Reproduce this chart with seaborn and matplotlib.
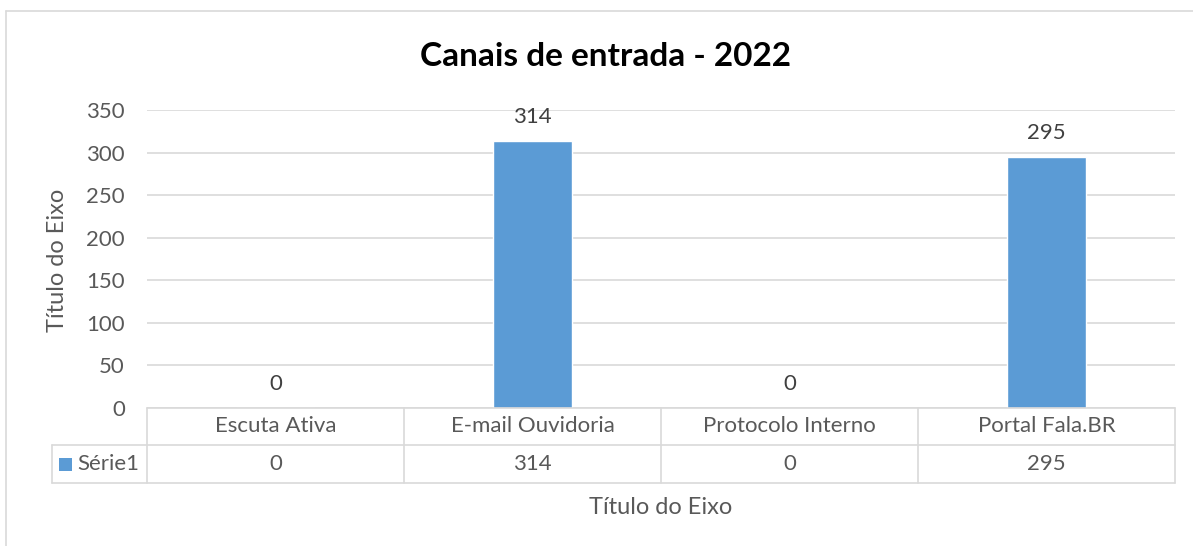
import matplotlib.pyplot as plt
import matplotlib.transforms as mtransforms
import seaborn as sns
import pandas as pd

# data
categories = ["Escuta Ativa", "E-mail Ouvidoria", "Protocolo Interno", "Portal Fala.BR"]
values = [0, 314, 0, 295]
series_name = "Série1"
y_ticks = [0, 50, 100, 150, 200, 250, 300, 350]
title = "Canais de entrada - 2022"
axis_title = "Título do Eixo"

BAR = "#5B9BD5"
TXT = "#595959"
GRID = "#D9D9D9"
FS = 16

sns.set_theme(style="white")
plt.rcParams["font.family"] = ["Lato", "DejaVu Sans"]

W, H = 1193, 546
fig = plt.figure(figsize=(W / 100, H / 100), dpi=100)
ax = fig.add_axes([147 / W, (H - 408) / H, (1175 - 147) / W, (408 - 110) / H])

df = pd.DataFrame({"canal": categories, "n": values})
sns.barplot(data=df, x="canal", y="n", color=BAR, width=0.31, ax=ax, saturation=1)

ax.set_xlim(-0.5, len(categories) - 0.5)
ax.set_ylim(0, 350)
ax.set_yticks(y_ticks)
ax.yaxis.grid(True, color=GRID, lw=1.2)
ax.set_axisbelow(True)
for s in ax.spines.values():
    s.set_visible(False)
ax.tick_params(axis="y", length=0, labelsize=FS, labelcolor=TXT, pad=16)
ax.set_xticks([])
ax.set_xlabel("")
ax.set_ylabel("")
fig.text(57 / W, 1 - 260 / H, axis_title, rotation=90, ha="center", va="center", fontsize=17, color=TXT)

for c in ax.containers:
    ax.bar_label(c, labels=[str(v) for v in values], padding=10, fontsize=FS, color="#404040")

# data table below the axis
tr = mtransforms.blended_transform_factory(ax.transData, ax.transAxes)
ph = 408 - 110
row1 = -37 / ph
row2 = -75 / ph
left = -0.5 - 95 / 257
n = len(categories)
kw = dict(color=GRID, lw=1.2, transform=tr, clip_on=False)
ax.plot([-0.5, n - 0.5], [0, 0], **kw)
ax.plot([left, n - 0.5], [row1, row1], **kw)
ax.plot([left, n - 0.5], [row2, row2], **kw)
ax.plot([left, left], [row1, row2], **kw)
for i in range(n + 1):
    ax.plot([i - 0.5, i - 0.5], [0, row2], **kw)
for i, (cat, v) in enumerate(zip(categories, values)):
    ax.text(i, row1 / 2, cat, ha="center", va="center", fontsize=FS, color=TXT, transform=tr)
    ax.text(i, (row1 + row2) / 2, str(v), ha="center", va="center", fontsize=FS, color=TXT, transform=tr)
fig.add_artist(plt.Rectangle((59 / W, 1 - 471 / H), 13 / W, 13 / H, color=BAR, lw=0))
fig.text(77 / W, 1 - 464 / H, series_name, ha="left", va="center", fontsize=FS, color=TXT)

fig.text(661 / W, 1 - 507 / H, axis_title, ha="center", va="center", fontsize=17, color=TXT)
fig.text(605 / W, 1 - 57 / H, title, ha="center", va="center", fontsize=24, fontweight="bold", color="black")

# chart area border
fig.add_artist(plt.Line2D([6 / W, 1], [1 - 11 / H, 1 - 11 / H], color=GRID, lw=1.2))
fig.add_artist(plt.Line2D([6 / W, 6 / W], [0, 1 - 11 / H], color=GRID, lw=1.2))

fig.savefig("out.png", dpi=100)
